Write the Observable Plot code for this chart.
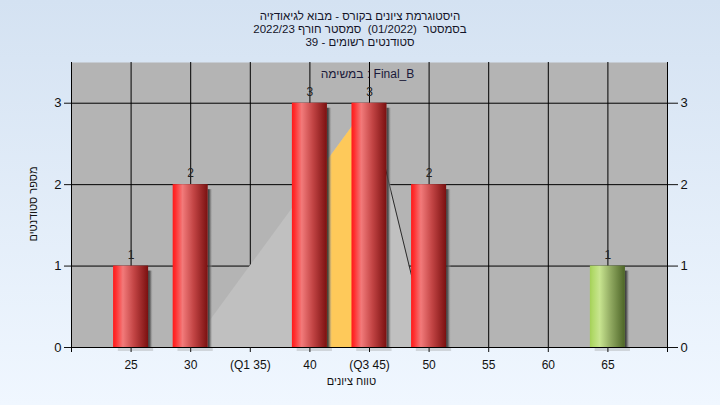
<!DOCTYPE html>
<html><head><meta charset="utf-8">
<script src="https://cdn.jsdelivr.net/npm/d3@7"></script>
<script src="https://cdn.jsdelivr.net/npm/@observablehq/plot@0.6"></script>
<style>
html,body{margin:0;padding:0;}
body{width:720px;height:405px;overflow:hidden;background:linear-gradient(#d4e2f2,#f0f7ff);font-family:"Liberation Sans",Arial,sans-serif;}
#title{height:50px;box-sizing:border-box;padding-top:10px;text-align:center;font-size:11.5px;line-height:13px;color:#141428;}
#title div{direction:rtl;white-space:pre;}
#chart svg{display:block;overflow:visible;}
</style></head><body>
<div id="title"></div><div id="chart"></div>
<script>
const titleLines = [
  "היסטוגרמת ציונים בקורס - מבוא לגיאודזיה",
  "בסמסטר  (01/2022)  סמסטר חורף 2022/23",
  "סטודנטים רשומים - 39"
];
const annotation = "במשימה : Final_B";
const xAxisLabel = "טווח ציונים";
const yAxisLabel = "מספר סטודנטים";
const bins = [25, 30, 35, 40, 45, 50, 55, 60, 65];
const counts = [1, 2, 0, 3, 3, 2, 0, 0, 1];
const tickLabels = ["25", "30", "(Q1 35)", "40", "(Q3 45)", "50", "55", "60", "65"];
const highlightBin = 65;
const curveX = [30, 45, 50];
const curveY = [0, 3, 0];
const iqrX = [40, 45];
const iqrY = [2, 3];
const yTicks = [0, 1, 2, 3];

const t = document.getElementById("title");
titleLines.forEach(s => { const d = document.createElement("div"); d.textContent = s; t.appendChild(d); });

const data = bins.map((b, i) => ({bin: b, count: counts[i]}));
const bars = data.filter(d => d.count > 0);
const hw = 1.47;
const sw = 0.42;
const curve = curveX.map((x, i) => ({x, y: curveY[i]}));
const iqr = iqrX.map((x, i) => ({x, y: iqrY[i]}));

const plot = Plot.plot({
  width: 720, height: 355,
  marginTop: 12, marginBottom: 58, marginLeft: 71, marginRight: 53,
  x: {domain: [20, 70]},
  y: {domain: [0, 3.5]},
  style: {background: "transparent", fontFamily: "Liberation Sans, Arial, sans-serif", fontSize: "12px", color: "#111"},
  marks: [
    Plot.frame({fill: "#b4b4b4", stroke: "none"}),
    Plot.ruleX(bins, {stroke: "#000", strokeOpacity: 1}),
    Plot.ruleY(yTicks.filter(v => v > 0), {stroke: "#000", strokeOpacity: 1}),
    Plot.areaY(curve, {x: "x", y: "y", fill: "#c0c0c0"}),
    Plot.areaY(iqr, {x: "x", y: "y", fill: "#fec95a"}),
    Plot.line(curve.slice(1), {x: "x", y: "y", stroke: "#2a2a2a", strokeWidth: 1}),
    Plot.rect(bars, {x1: d => d.bin + hw, x2: d => d.bin + hw + sw, y1: 0, y2: "count", insetTop: 5, fill: "url(#shadowGrad)"}),
    Plot.rect(bars, {x1: d => d.bin - hw + 0.4, x2: d => d.bin + hw + sw, y1: 0, y2: 0, insetBottom: -4, fill: "#9a9a9a", fillOpacity: 0.35}),
    Plot.rectY(bars.filter(d => d.bin !== highlightBin), {x1: d => d.bin - hw, x2: d => d.bin + hw, y: "count", fill: "url(#redGrad)"}),
    Plot.rectY(bars.filter(d => d.bin === highlightBin), {x1: d => d.bin - hw, x2: d => d.bin + hw, y: "count", fill: "url(#greenGrad)"}),
    Plot.text(bars, {x: "bin", y: "count", text: d => String(d.count), dy: -11, fill: "#222", fontSize: 12}),
    Plot.ruleX([20, 70], {stroke: "#000", strokeOpacity: 1, insetBottom: -5}),
    Plot.ruleY([0], {stroke: "#000", strokeOpacity: 1}),
    Plot.axisY({anchor: "left", ticks: yTicks, tickSize: 7, tickPadding: 3, fontSize: 13, label: null, tickFormat: d => String(d)}),
    Plot.axisY({anchor: "right", ticks: yTicks, tickSize: 10, tickPadding: 3, fontSize: 13, label: null, tickFormat: d => String(d)}),
    Plot.axisX({ticks: bins, tickFormat: d => tickLabels[bins.indexOf(d)], tickSize: 5, tickPadding: 8, label: null, fontSize: 12}),
    Plot.text([annotation], {frameAnchor: "top", dy: 7, dx: -2, lineAnchor: "top", text: d => d, fill: "#1a1a3a", fontSize: 12}),
    Plot.text([yAxisLabel], {frameAnchor: "left", textAnchor: "middle", rotate: -90, dx: -38, dy: -1, text: d => d, fill: "#111", fontSize: 11}),
    Plot.text([xAxisLabel], {frameAnchor: "bottom", lineAnchor: "middle", dy: 34, dx: -18, text: d => d, fill: "#111", fontSize: 11})
  ]
});

const defs = d3.select(plot).insert("defs", ":first-child");
function grad(id, stops) {
  const g = defs.append("linearGradient").attr("id", id).attr("x1", 0).attr("x2", 1).attr("y1", 0).attr("y2", 0);
  stops.forEach(([o, c, op]) => g.append("stop").attr("offset", o).attr("stop-color", c).attr("stop-opacity", op == null ? 1 : op));
}
grad("redGrad", [[0, "#ff1a1a"], [0.08, "#ff2e2e"], [0.28, "#f27a7a"], [0.6, "#c24444"], [1, "#7a1010"]]);
grad("greenGrad", [[0, "#a4cf58"], [0.08, "#b0d968"], [0.28, "#c8e590"], [0.6, "#8fa860"], [1, "#4c6426"]]);
grad("shadowGrad", [[0, "#2e2e2e", 0.95], [0.4, "#505050", 0.8], [1, "#b4b4b4", 0]]);

document.getElementById("chart").appendChild(plot);
</script>
</body></html>
